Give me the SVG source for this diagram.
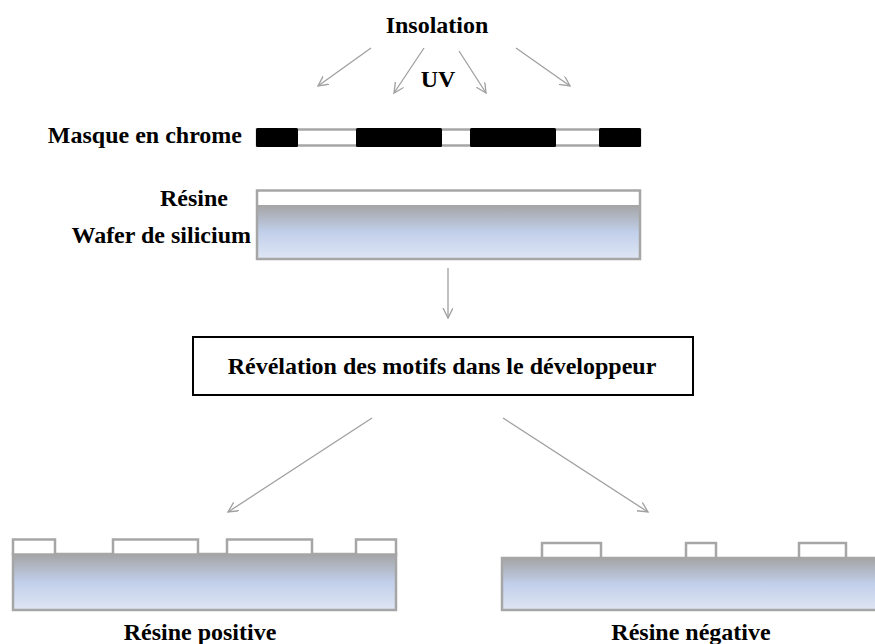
<svg xmlns="http://www.w3.org/2000/svg" width="875" height="644" viewBox="0 0 875 644">
<style>
text{font-family:"Liberation Serif","Times New Roman",serif;font-weight:bold;font-size:24px;fill:#000}
.c{stroke:#a0a0a0;stroke-width:1.3;fill:none}
.w{fill:url(#g);stroke:#a6a6a6;stroke-width:2.5}
.r{fill:#fff;stroke:#a6a6a6;stroke-width:2.5}
.b{fill:#000}
</style>
<defs>
<linearGradient id="g" x1="0" y1="0" x2="0" y2="1">
<stop offset="0" stop-color="#a4a4a4"/>
<stop offset="0.5" stop-color="#c1cfea"/>
<stop offset="1" stop-color="#dfe6f4"/>
</linearGradient>
<marker id="a" markerWidth="12" markerHeight="12" refX="10" refY="5" orient="auto" markerUnits="userSpaceOnUse">
<path d="M0,0 L10,5 L0,10" fill="none" stroke="#a0a0a0" stroke-width="1.3"/>
</marker>
</defs>
<g id="insolation"><text x="437" y="33" text-anchor="middle">Insolation</text></g>
<g id="uv"><text x="438" y="87" text-anchor="middle">UV</text></g>
<g id="masque">
<text x="242" y="143" text-anchor="end">Masque en chrome</text>
<rect x="257" y="129.5" width="383" height="16" class="r"/>
<rect class="b" x="256" y="128" width="42" height="19" rx="1.5"/>
<rect class="b" x="356" y="128" width="86" height="19" rx="1.5"/>
<rect class="b" x="470" y="128" width="86" height="19" rx="1.5"/>
<rect class="b" x="599" y="128" width="42" height="19" rx="1.5"/>
</g>
<g id="wafer">
<text x="228" y="206" text-anchor="end">Résine</text>
<text x="251" y="243" text-anchor="end">Wafer de silicium</text>
<rect x="257" y="205" width="383" height="54" fill="url(#g)"/>
<rect x="257" y="190.5" width="383" height="14.5" fill="#fff"/>
<rect x="257" y="190.5" width="383" height="68.5" fill="none" stroke="#a6a6a6" stroke-width="2.5"/>
</g>
<g id="revelation">
<rect x="193" y="337" width="500" height="58" fill="#fff" stroke="#000" stroke-width="2"/>
<text x="442" y="374" text-anchor="middle">Révélation des motifs dans le développeur</text>
</g>
<g id="positive">
<rect class="w" x="13" y="554" width="383" height="56"/>
<rect class="r" x="13" y="539.5" width="42" height="15"/>
<rect class="r" x="113" y="539.5" width="85" height="15"/>
<rect class="r" x="227" y="539.5" width="85" height="15"/>
<rect class="r" x="356" y="539.5" width="40" height="15"/>
<text x="200" y="640" text-anchor="middle">Résine positive</text>
</g>
<g id="negative">
<rect class="w" x="502" y="558" width="383" height="52"/>
<rect class="r" x="542" y="543" width="59" height="15"/>
<rect class="r" x="686" y="543" width="30" height="15"/>
<rect class="r" x="799" y="543" width="47" height="15"/>
<text x="691" y="640" text-anchor="middle">Résine négative</text>
</g>
<g id="connectors">
<line class="c" x1="371" y1="48" x2="318" y2="86" marker-end="url(#a)"/>
<line class="c" x1="424" y1="48" x2="394" y2="93" marker-end="url(#a)"/>
<line class="c" x1="459" y1="51" x2="486" y2="93" marker-end="url(#a)"/>
<line class="c" x1="516" y1="48" x2="570" y2="86" marker-end="url(#a)"/>
<line class="c" x1="448" y1="268" x2="448" y2="318" marker-end="url(#a)"/>
<line class="c" x1="372" y1="418" x2="228" y2="512" marker-end="url(#a)"/>
<line class="c" x1="503" y1="418" x2="648" y2="512" marker-end="url(#a)"/>
</g>
</svg>
